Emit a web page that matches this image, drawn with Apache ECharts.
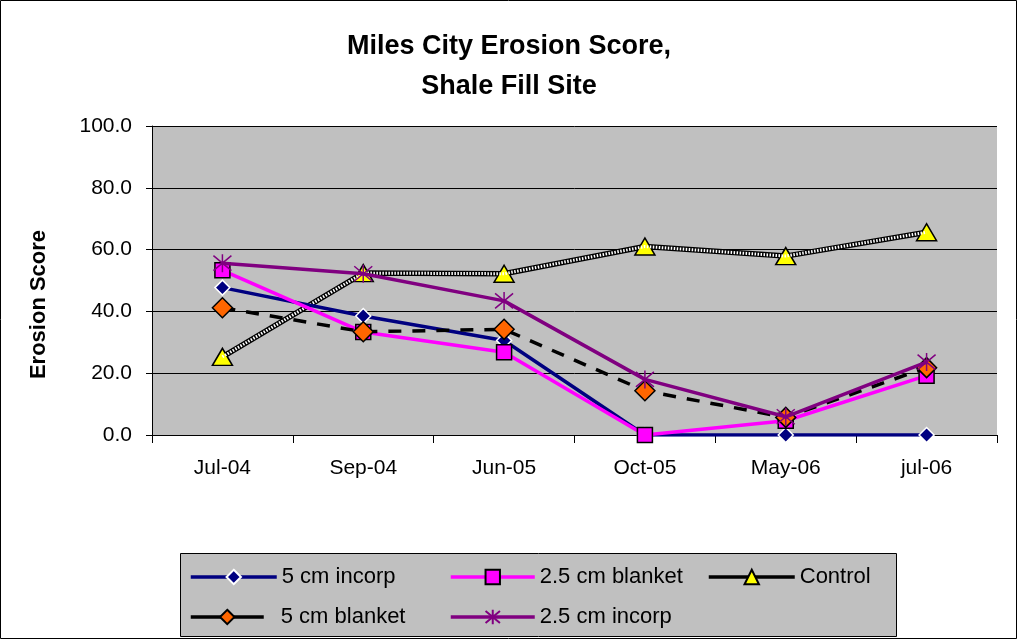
<!DOCTYPE html>
<html>
<head>
<meta charset="utf-8">
<script src="https://cdn.jsdelivr.net/npm/echarts@6/dist/echarts.min.js"></script>
<style>
  html, body { margin: 0; padding: 0; background: #fff; }
  #chart { width: 1018px; height: 640px; }
</style>
</head>
<body>
<div id="chart"></div>
<script>
// data
var months = ['Jul-04', 'Sep-04', 'Jun-05', 'Oct-05', 'May-06', 'jul-06'];
var incorp5 = [47.7, 38.5, 30.6, 0, 0, 0];
var blanket25 = [53.3, 33.3, 26.8, 0, 4.6, 19.2];
var control = [25.3, 52.4, 52.2, 61.0, 57.9, 65.6];
var blanket5 = [41.2, 33.4, 34.2, 14.3, 5.7, 21.8];
var incorp25 = [55.6, 52.2, 43.4, 18.0, 5.9, 23.6];
var yTicks = [0, 20, 40, 60, 80, 100];

var chart = echarts.init(document.getElementById('chart'));
var font = '"Liberation Sans", Arial, sans-serif';
var asterisk = 'path://M0,0 L10,10 M10,0 L0,10 M5,-1 L5,11';

function legendItem(name, left, top, w, gap) {
  return {
    data: [name],
    left: left,
    top: top,
    itemWidth: w,
    itemHeight: 18,
    padding: 0,
    lineStyle: { type: 'solid', width: 3.5 },
    textStyle: { fontFamily: font, fontSize: 22, color: '#000', padding: [0, 0, 0, gap || 0] }
  };
}

chart.setOption({
  animation: false,
  backgroundColor: '#fff',
  title: {
    text: 'Miles City Erosion Score,\nShale Fill Site',
    left: 'center',
    top: 22,
    textStyle: { fontFamily: font, fontSize: 27, fontWeight: 'bold', color: '#000', lineHeight: 40 }
  },
  graphic: [
    { type: 'rect', shape: { x: 0.5, y: 0.5, width: 1016, height: 638 },
      style: { fill: null, stroke: '#000', lineWidth: 1 }, z: -10 },
    { type: 'rect', shape: { x: 180.5, y: 553.5, width: 716, height: 83 },
      style: { fill: '#c0c0c0', stroke: '#000', lineWidth: 1 }, z: -5 }
  ],
  legend: [
    legendItem('5 cm incorp', 189, 566, 86),
    legendItem('2.5 cm blanket', 449, 566, 84),
    legendItem('Control', 707, 566, 86),
    legendItem('5 cm blanket', 189, 606, 73, 12),
    legendItem('2.5 cm incorp', 449, 606, 84)
  ],
  grid: { left: 152, right: 21, top: 126, bottom: 205, show: true, backgroundColor: '#c0c0c0', borderWidth: 0 },
  xAxis: {
    type: 'category',
    data: months,
    boundaryGap: true,
    axisLine: { lineStyle: { color: '#000', width: 1 } },
    axisTick: { show: true, length: 8, lineStyle: { color: '#000' } },
    axisLabel: { fontFamily: font, fontSize: 21, color: '#000', margin: 23 }
  },
  yAxis: {
    type: 'value',
    min: 0,
    max: 100,
    interval: 20,
    name: 'Erosion Score',
    nameLocation: 'middle',
    nameGap: 102,
    nameTextStyle: { fontFamily: font, fontSize: 22, fontWeight: 'bold', color: '#000', padding: [0, 48, 0, 0] },
    axisLine: { show: true, lineStyle: { color: '#000', width: 1 } },
    axisTick: { show: true, length: 6, lineStyle: { color: '#000' } },
    splitLine: { lineStyle: { color: '#000', width: 1 } },
    axisLabel: {
      fontFamily: font, fontSize: 21, color: '#000', margin: 20,
      formatter: function (v) { return yTicks.indexOf(v) >= 0 ? v.toFixed(1) : ''; }
    }
  },
  series: [
    {
      name: 'Control', type: 'line', data: control,
      lineStyle: { color: '#000', width: 5.5 },
      symbol: 'triangle', symbolSize: [20, 17],
      itemStyle: { color: '#ffff00', borderColor: '#000', borderWidth: 1.5 },
      z: 2
    },
    {
      name: 'Control', type: 'line', data: control,
      lineStyle: { color: '#fff', width: 3, type: [1.5, 1.5] },
      symbol: 'none', z: 3
    },
    {
      name: '5 cm incorp', type: 'line', data: incorp5,
      lineStyle: { color: '#000080', width: 3.5 },
      symbol: 'diamond', symbolSize: 15,
      itemStyle: { color: '#000080', borderColor: '#fff', borderWidth: 1.5 },
      z: 4
    },
    {
      name: '2.5 cm blanket', type: 'line', data: blanket25,
      lineStyle: { color: '#ff00ff', width: 3.5 },
      symbol: 'rect', symbolSize: 15,
      itemStyle: { color: '#ff00ff', borderColor: '#000', borderWidth: 1.5 },
      z: 5
    },
    {
      name: '5 cm blanket', type: 'line', data: blanket5,
      lineStyle: { color: '#000', width: 3.5, type: [13, 11] },
      symbol: 'diamond', symbolSize: 20,
      itemStyle: { color: '#ff6600', borderColor: '#000', borderWidth: 1.5 },
      z: 6
    },
    {
      name: '2.5 cm incorp', type: 'line', data: incorp25,
      lineStyle: { color: '#800080', width: 3.5 },
      symbol: asterisk, symbolSize: 18,
      itemStyle: { color: '#800080', borderColor: '#800080', borderWidth: 1.5 },
      z: 7
    }
  ]
});
</script>
</body>
</html>
